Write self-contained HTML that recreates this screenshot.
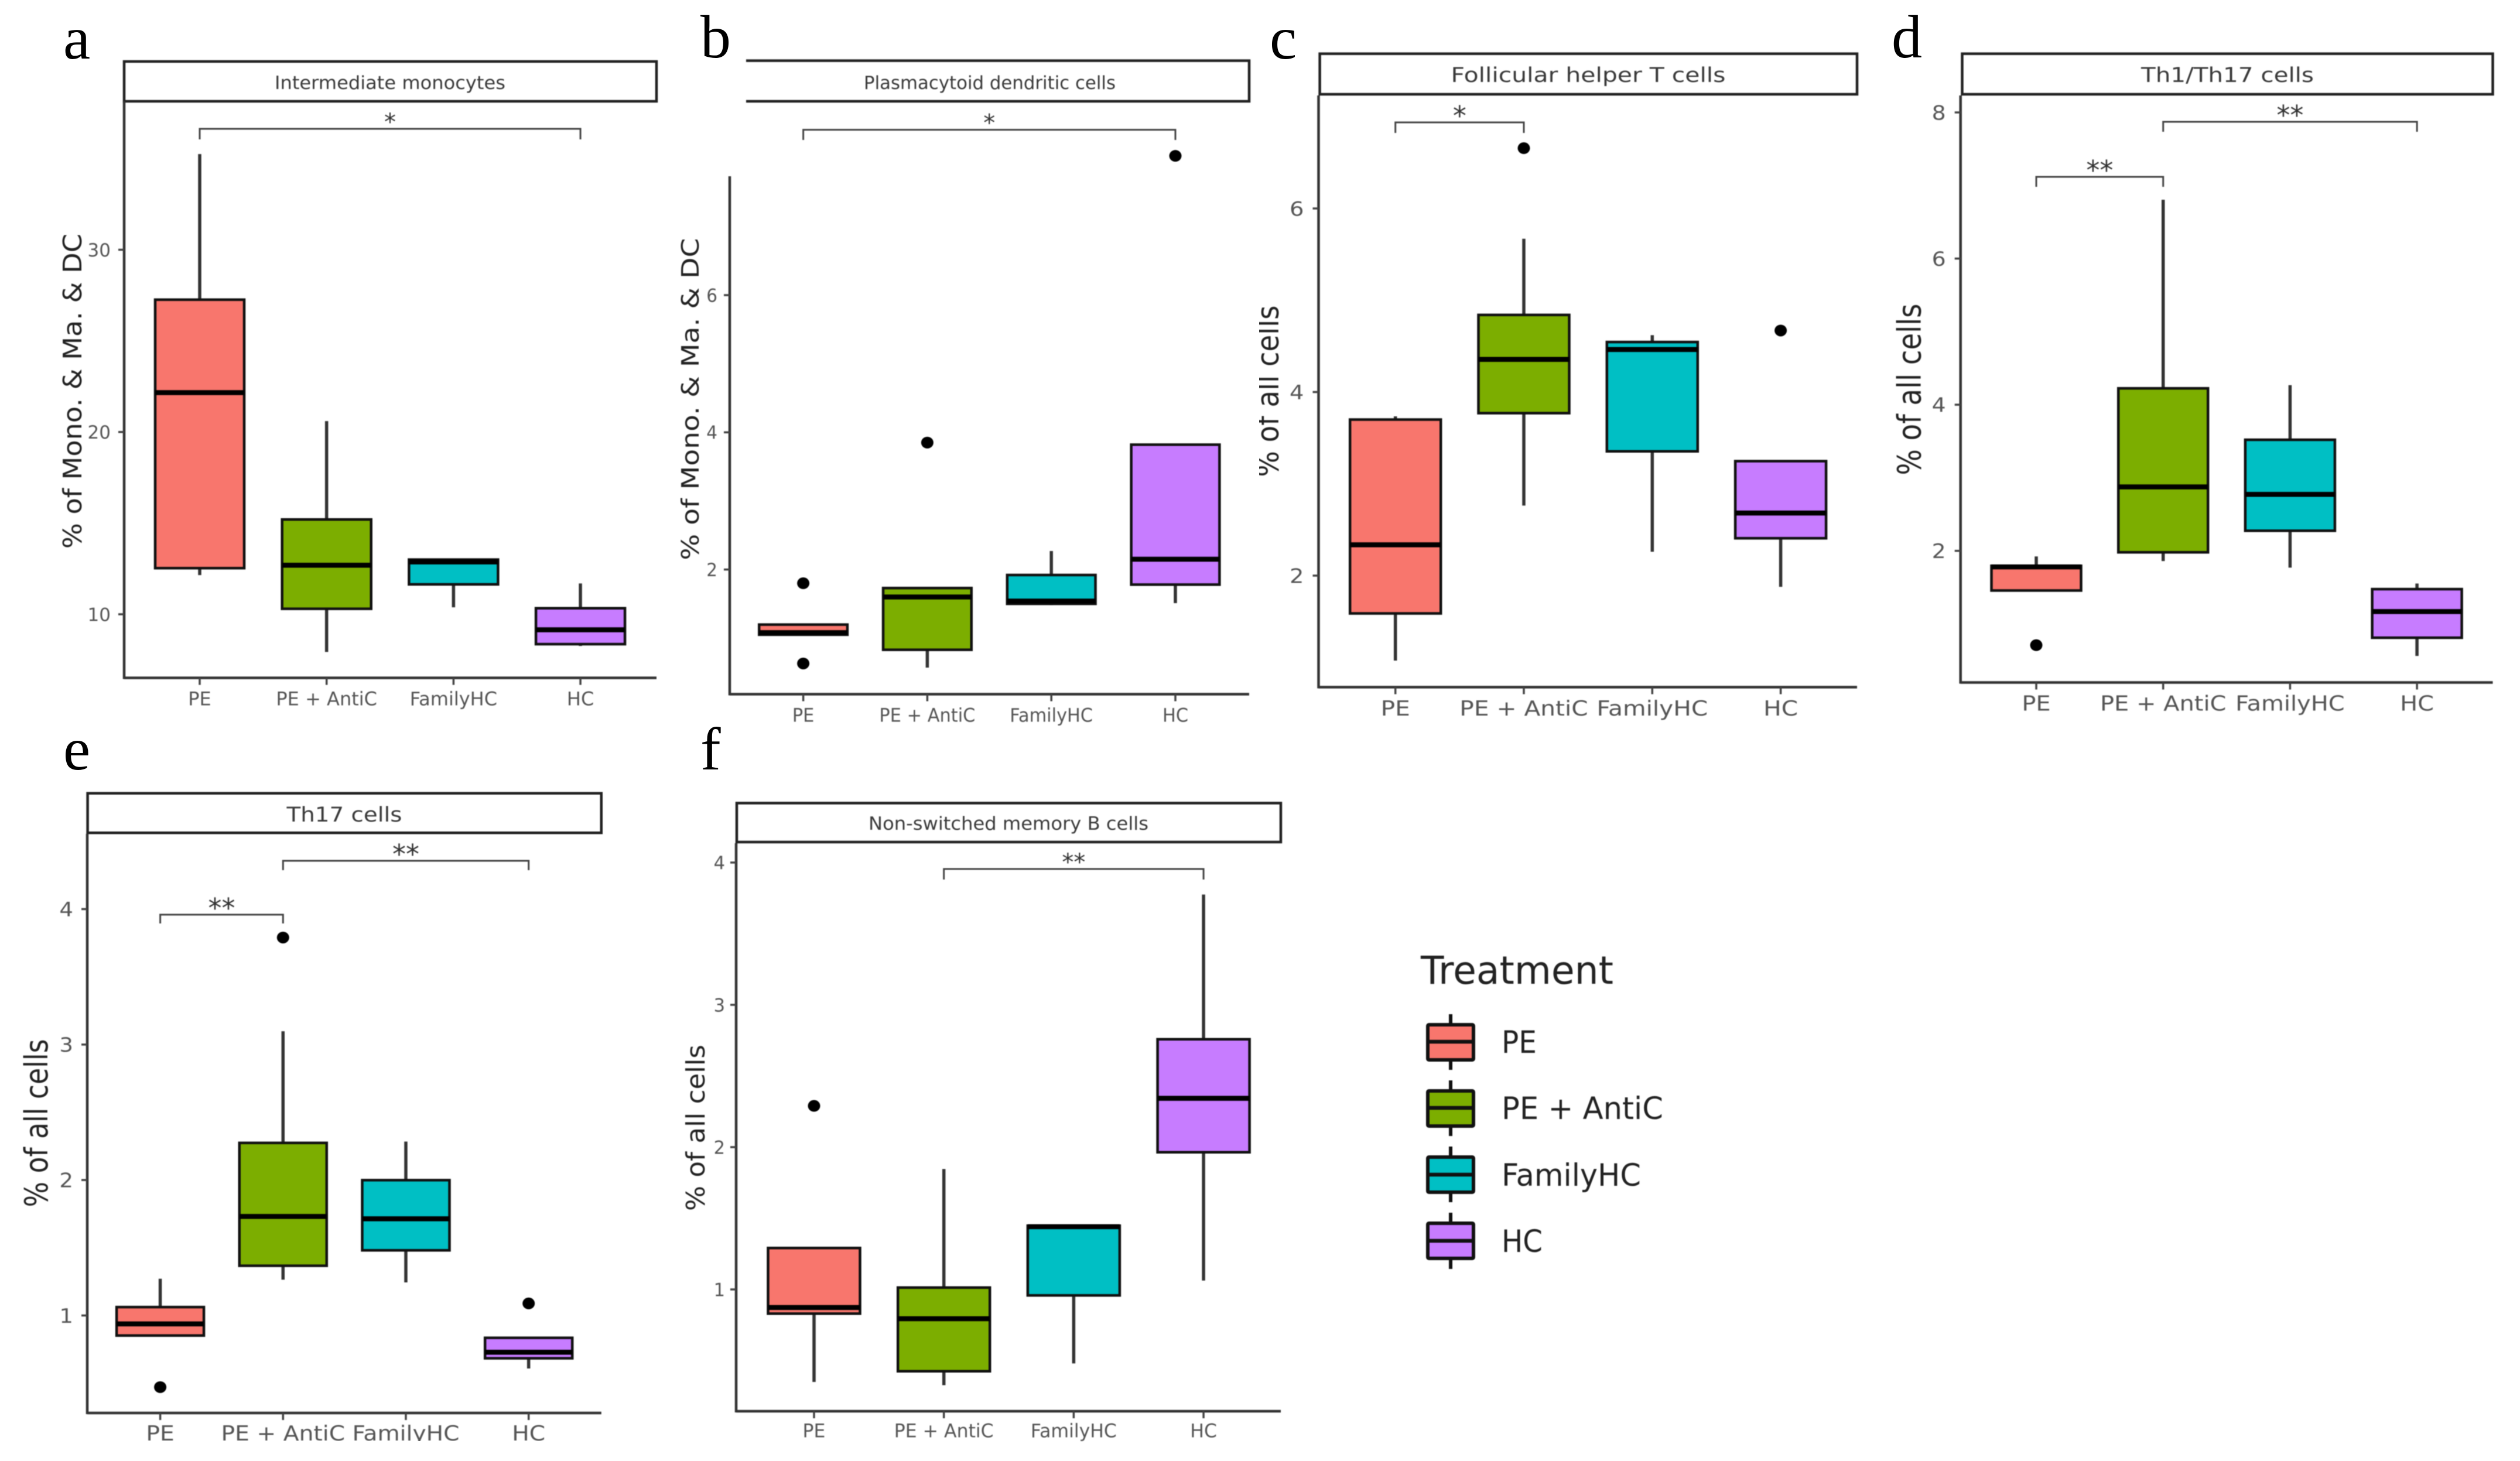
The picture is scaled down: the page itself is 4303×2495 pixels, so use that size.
<!DOCTYPE html>
<html lang="en">
<head>
<meta charset="utf-8">
<title>Immune cell percentages by treatment</title>
<style>
html,body{margin:0;padding:0;background:#fff;}
svg{display:block;}
text{font-family:"DejaVu Sans","Liberation Sans",sans-serif;}
.letter{font-family:"Liberation Serif",serif;fill:#000;font-size:104px;}
#panels,#legend{filter:blur(0.9px);}
</style>
</head>
<body>
<svg id="figure" xmlns="http://www.w3.org/2000/svg" width="4303" height="2495" viewBox="0 0 4303 2495">
<rect x="0" y="0" width="4303" height="2495" fill="#fff"/>
<g id="panels"></g>
<text class="letter" x="108" y="100">a</text>
<text class="letter" x="1196" y="98">b</text>
<text class="letter" x="2168" y="100">c</text>
<text class="letter" x="3230" y="98">d</text>
<text class="letter" x="108" y="1314">e</text>
<text class="letter" x="1196" y="1314">f</text>
<rect x="2130" y="500" width="20" height="340" fill="#fff"/>
<rect x="100" y="2461" width="1000" height="34" fill="#fff"/>
<g id="legend">
<text x="2426" y="1680" font-size="66" fill="#222" textLength="329" lengthAdjust="spacingAndGlyphs">Treatment</text>
<g stroke="#111" stroke-width="6">
<line x1="2477" x2="2477" y1="1732" y2="1827"/><rect x="2438" y="1750" width="78" height="60" rx="2" fill="#F8766D"/><line x1="2438" x2="2516" y1="1779" y2="1779" stroke-width="6.5"/>
</g>
<text x="2564" y="1798" font-size="53" fill="#222" textLength="60" lengthAdjust="spacingAndGlyphs">PE</text>
<g stroke="#111" stroke-width="6">
<line x1="2477" x2="2477" y1="1845" y2="1940"/><rect x="2438" y="1863" width="78" height="60" rx="2" fill="#7CAE00"/><line x1="2438" x2="2516" y1="1892" y2="1892" stroke-width="6.5"/>
</g>
<text x="2564" y="1911" font-size="53" fill="#222" textLength="276" lengthAdjust="spacingAndGlyphs">PE + AntiC</text>
<g stroke="#111" stroke-width="6">
<line x1="2477" x2="2477" y1="1958" y2="2053"/><rect x="2438" y="1976" width="78" height="60" rx="2" fill="#00BFC4"/><line x1="2438" x2="2516" y1="2006" y2="2006" stroke-width="6.5"/>
</g>
<text x="2564" y="2025" font-size="53" fill="#222" textLength="238" lengthAdjust="spacingAndGlyphs">FamilyHC</text>
<g stroke="#111" stroke-width="6">
<line x1="2477" x2="2477" y1="2071" y2="2167"/><rect x="2438" y="2089" width="78" height="60" rx="2" fill="#C77CFF"/><line x1="2438" x2="2516" y1="2119" y2="2119" stroke-width="6.5"/>
</g>
<text x="2564" y="2138" font-size="53" fill="#222" textLength="70" lengthAdjust="spacingAndGlyphs">HC</text>
</g>
</svg>
<script>
const categories = ["PE", "PE + AntiC", "FamilyHC", "HC"];
const colors = ["#F8766D", "#7CAE00", "#00BFC4", "#C77CFF"];

/* Panel a */
const aTicks = [10, 20, 30];
const aLow = [12.15, 7.93, 10.38, 8.26];
const aQ1 = [12.53, 10.3, 11.64, 8.36];
const aMedian = [22.16, 12.69, 12.87, 9.15];
const aQ3 = [27.26, 15.2, 13.0, 10.33];
const aHigh = [35.25, 20.6, 13.0, 11.69];
const aOutlierGroup = [];
const aOutlierValue = [];

/* Panel b */
const bTicks = [2, 4, 6];
const bLow = [1.05, 0.57, 1.48, 1.51];
const bQ1 = [1.05, 0.83, 1.5, 1.78];
const bMedian = [1.08, 1.6, 1.54, 2.15];
const bQ3 = [1.197, 1.73, 1.92, 3.82];
const bHigh = [1.197, 1.73, 2.27, 3.82];
const bOutlierGroup = [0, 0, 1, 3];
const bOutlierValue = [1.8, 0.63, 3.85, 8.03];

/* Panel c */
const cTicks = [2, 4, 6];
const cLow = [1.074, 2.763, 2.26, 1.878];
const cQ1 = [1.588, 3.77, 3.354, 2.407];
const cMedian = [2.336, 4.356, 4.463, 2.682];
const cQ3 = [3.7, 4.84, 4.545, 3.247];
const cHigh = [3.735, 5.67, 4.62, 3.247];
const cOutlierGroup = [1, 3];
const cOutlierValue = [6.657, 4.67];

/* Panel d */
const dTicks = [2, 4, 6, 8];
const dLow = [1.457, 1.86, 1.77, 0.562];
const dQ1 = [1.457, 1.98, 2.275, 0.811];
const dMedian = [1.78, 2.875, 2.773, 1.169];
const dQ3 = [1.795, 4.224, 3.52, 1.476];
const dHigh = [1.923, 6.805, 4.268, 1.553];
const dOutlierGroup = [0];
const dOutlierValue = [0.709];

/* Panel e */
const eTicks = [1, 2, 3, 4];
const eLow = [0.852, 1.264, 1.244, 0.609];
const eQ1 = [0.852, 1.367, 1.481, 0.684];
const eMedian = [0.938, 1.731, 1.714, 0.729];
const eQ3 = [1.062, 2.274, 1.999, 0.835];
const eHigh = [1.271, 3.098, 2.284, 0.835];
const eOutlierGroup = [0, 1, 3];
const eOutlierValue = [0.471, 3.79, 1.089];

/* Panel f */
const fTicks = [1, 2, 3, 4];
const fLow = [0.35, 0.327, 0.48, 1.062];
const fQ1 = [0.83, 0.425, 0.958, 1.964];
const fMedian = [0.873, 0.794, 1.441, 2.343];
const fQ3 = [1.291, 1.013, 1.448, 2.758];
const fHigh = [1.291, 1.846, 1.448, 3.775];
const fOutlierGroup = [0];
const fOutlierValue = [2.29];

const panels = [
  {id:"a", title:"Intermediate monocytes", yTitle:"% of Mono. & Ma. & DC",
   ticks:aTicks, low:aLow, q1:aQ1, median:aMedian, q3:aQ3, high:aHigh, outGroup:aOutlierGroup, outValue:aOutlierValue,
   strip:{l:212, r:1121, t:105, b:173, open:false, cx:666, cy:141, len:394, fs:31},
   axis:{l:212, r:1121, t:173, b:1157.6}, yCal:[10,1049,30,426.5], x0:341, dx:216.7, boxW:152,
   xFs:32, sx:1, xLabelY:1193, yFs:31, yGap:23, titleX:139, titleY:668, titleLen:538, titleFs:44, starFs:40,
   brackets:[{from:0,to:3,label:"*",y:220,end:238}]},
  {id:"b", title:"Plasmacytoid dendritic cells", yTitle:"% of Mono. & Ma. & DC",
   ticks:bTicks, low:bLow, q1:bQ1, median:bMedian, q3:bQ3, high:bHigh, outGroup:bOutlierGroup, outValue:bOutlierValue,
   strip:{l:1274, r:2133, t:103.6, b:173, open:true, cx:1690, cy:141, len:430, fs:31},
   axis:{l:1246, r:2133, t:301, b:1185.5}, yCal:[2,972.6,6,504], x0:1371.6, dx:211.8, boxW:150.7,
   xFs:32, sx:0.95, xLabelY:1221, yFs:31, yGap:21, titleX:1193, titleY:681.6, titleLen:550, titleFs:41, starFs:40,
   brackets:[{from:0,to:3,label:"*",y:221.6,end:239}]},
  {id:"c", title:"Follicular helper T cells", yTitle:"% of all cells",
   ticks:cTicks, low:cLow, q1:cQ1, median:cMedian, q3:cQ3, high:cHigh, outGroup:cOutlierGroup, outValue:cOutlierValue,
   strip:{l:2253.6, r:3171, t:91.7, b:161, open:false, cx:2712, cy:127.5, len:469, fs:35},
   axis:{l:2251.5, r:3171, t:163, b:1173.5}, yCal:[2,983,6,356], x0:2382.7, dx:219.3, boxW:155,
   xFs:36, sx:1.13, xLabelY:1209, yFs:34, yGap:25, titleX:2183, titleY:668, titleLen:293, titleFs:52, starFs:46,
   brackets:[{from:0,to:1,label:"*",y:209,end:227}]},
  {id:"d", title:"Th1/Th17 cells", yTitle:"% of all cells",
   ticks:dTicks, low:dLow, q1:dQ1, median:dMedian, q3:dQ3, high:dHigh, outGroup:dOutlierGroup, outValue:dOutlierValue,
   strip:{l:3350.5, r:4256.5, t:91.7, b:161, open:false, cx:3803.5, cy:127.5, len:295, fs:35},
   axis:{l:3347.7, r:4256.5, t:163, b:1165.5}, yCal:[2,940.7,8,192], x0:3477, dx:216.7, boxW:153,
   xFs:36, sx:1.11, xLabelY:1200.6, yFs:34, yGap:25, titleX:3279.5, titleY:665, titleLen:293, titleFs:55, starFs:46,
   brackets:[{from:1,to:3,label:"**",y:208,end:225},{from:0,to:1,label:"**",y:302,end:319}]},
  {id:"e", title:"Th17 cells", yTitle:"% of all cells",
   ticks:eTicks, low:eLow, q1:eQ1, median:eMedian, q3:eQ3, high:eHigh, outGroup:eOutlierGroup, outValue:eOutlierValue,
   strip:{l:149.6, r:1026.8, t:1354.8, b:1422.3, open:false, cx:588, cy:1390.5, len:197, fs:35},
   axis:{l:149, r:1026.8, t:1424, b:2413}, yCal:[1,2246.5,4,1552.5], x0:273.6, dx:209.7, boxW:149,
   xFs:36, sx:1.09, xLabelY:2447, yFs:34, yGap:24, titleX:81, titleY:1918, titleLen:287, titleFs:54, starFs:46,
   brackets:[{from:1,to:3,label:"**",y:1470,end:1486},{from:0,to:1,label:"**",y:1562,end:1577}]},
  {id:"f", title:"Non-switched memory B cells", yTitle:"% of all cells",
   ticks:fTicks, low:fLow, q1:fQ1, median:fMedian, q3:fQ3, high:fHigh, outGroup:fOutlierGroup, outValue:fOutlierValue,
   strip:{l:1258, r:2187, t:1371.5, b:1438, open:false, cx:1722, cy:1406, len:478, fs:31},
   axis:{l:1257, r:2187, t:1440, b:2410}, yCal:[1,2202,4,1473], x0:1390, dx:221.7, boxW:157,
   xFs:32, sx:0.985, xLabelY:2443, yFs:31, yGap:19, titleX:1203, titleY:1926, titleLen:284, titleFs:44, starFs:40,
   brackets:[{from:1,to:3,label:"**",y:1484,end:1502}]}
];

const NS = "http://www.w3.org/2000/svg";
function make(parent, tag, attrs, text) {
  const node = document.createElementNS(NS, tag);
  for (const k in attrs) node.setAttribute(k, attrs[k]);
  if (text !== undefined) node.textContent = text;
  parent.appendChild(node);
  return node;
}
function slug(s) {
  return s.toLowerCase().replace(/[^a-z0-9]+/g, "-");
}
function yScale(p) {
  const c = p.yCal;
  return function (v) { return c[1] + (v - c[0]) * (c[3] - c[1]) / (c[2] - c[0]); };
}
function xScale(p) {
  return function (i) { return p.x0 + i * p.dx; };
}

function drawPanel(p) {
  const root = document.getElementById("panels");
  const y = yScale(p);
  const x = xScale(p);
  const ax = p.axis;
  const s = p.strip;

  const g = make(root, "g", {});
  
  

  const stripPath = s.open
    ? "M" + s.l + " " + s.t + "H" + s.r + "V" + s.b + "H" + s.l
    : "M" + s.l + " " + s.t + "H" + s.r + "V" + s.b + "H" + s.l + "Z";
  const strip = make(g, "path", {d: stripPath, fill: "#fff", stroke: "#222", "stroke-width": 4.5});
  
  

  const stripText = make(g, "text", {x: s.cx, y: s.cy + 0.36 * s.fs, "font-size": s.fs, fill: "#3a3a3a", "text-anchor": "middle", textLength: s.len, lengthAdjust: "spacingAndGlyphs"}, p.title);
  
  

  const yAxis = make(g, "line", {x1: ax.l, x2: ax.l, y1: ax.t, y2: ax.b + 2, stroke: "#333", "stroke-width": 4.5});
  
  

  const xAxis = make(g, "line", {x1: ax.l, x2: ax.r, y1: ax.b, y2: ax.b, stroke: "#333", "stroke-width": 4.5});
  
  

  p.ticks.forEach(function (t) {
    const tick = make(g, "line", {x1: ax.l - 10, x2: ax.l, y1: y(t), y2: y(t), stroke: "#444", "stroke-width": 3.5});
    
    
    const label = make(g, "text", {transform: "translate(" + (ax.l - p.yGap) + " " + (y(t) + 0.365 * p.yFs) + ") scale(" + p.sx + " 1)", "font-size": p.yFs, fill: "#555", "text-anchor": "end"}, String(t));
    
    
  });

  const yTitle = make(g, "text", {transform: "translate(" + p.titleX + " " + p.titleY + ") rotate(-90)", "font-size": p.titleFs, fill: "#222", "text-anchor": "middle", textLength: p.titleLen, lengthAdjust: "spacingAndGlyphs"}, p.yTitle);
  
  

  categories.forEach(function (name, i) {
    const cx = x(i);
    const key = slug(name);

    const tick = make(g, "line", {x1: cx, x2: cx, y1: ax.b, y2: ax.b + 12, stroke: "#444", "stroke-width": 3.5});
    
    

    const label = make(g, "text", {transform: "translate(" + cx + " " + (p.xLabelY + 0.365 * p.xFs) + ") scale(" + p.sx + " 1)", "font-size": p.xFs, fill: "#555", "text-anchor": "middle"}, name);
    
    

    const whisker = make(g, "line", {x1: cx, x2: cx, y1: y(p.high[i]), y2: y(p.low[i]), stroke: "#333", "stroke-width": 5.5});
    
    

    const box = make(g, "rect", {x: cx - p.boxW / 2, y: y(p.q3[i]), width: p.boxW, height: y(p.q1[i]) - y(p.q3[i]), fill: colors[i], stroke: "#111", "stroke-width": 4.5});
    
    

    const med = make(g, "line", {x1: cx - p.boxW / 2, x2: cx + p.boxW / 2, y1: y(p.median[i]), y2: y(p.median[i]), stroke: "#000", "stroke-width": 8.5});
    
    
  });

  p.outValue.forEach(function (v, j) {
    const dot = make(g, "ellipse", {cx: x(p.outGroup[j]), cy: y(v), rx: 10.5, ry: 10, fill: "#000"});
    
    
  });

  p.brackets.forEach(function (b) {
    const x1 = x(b.from);
    const x2 = x(b.to);
    const br = make(g, "path", {d: "M" + x1 + " " + b.end + "V" + b.y + "H" + x2 + "V" + b.end, fill: "none", stroke: "#444", "stroke-width": 3});
    
    
    const star = make(g, "text", {x: (x1 + x2) / 2, y: b.y - 19 + 0.52 * p.starFs, "font-size": p.starFs, fill: "#333", "text-anchor": "middle"}, b.label);
    
    
  });
}

panels.forEach(drawPanel);
</script>
</body>
</html>
